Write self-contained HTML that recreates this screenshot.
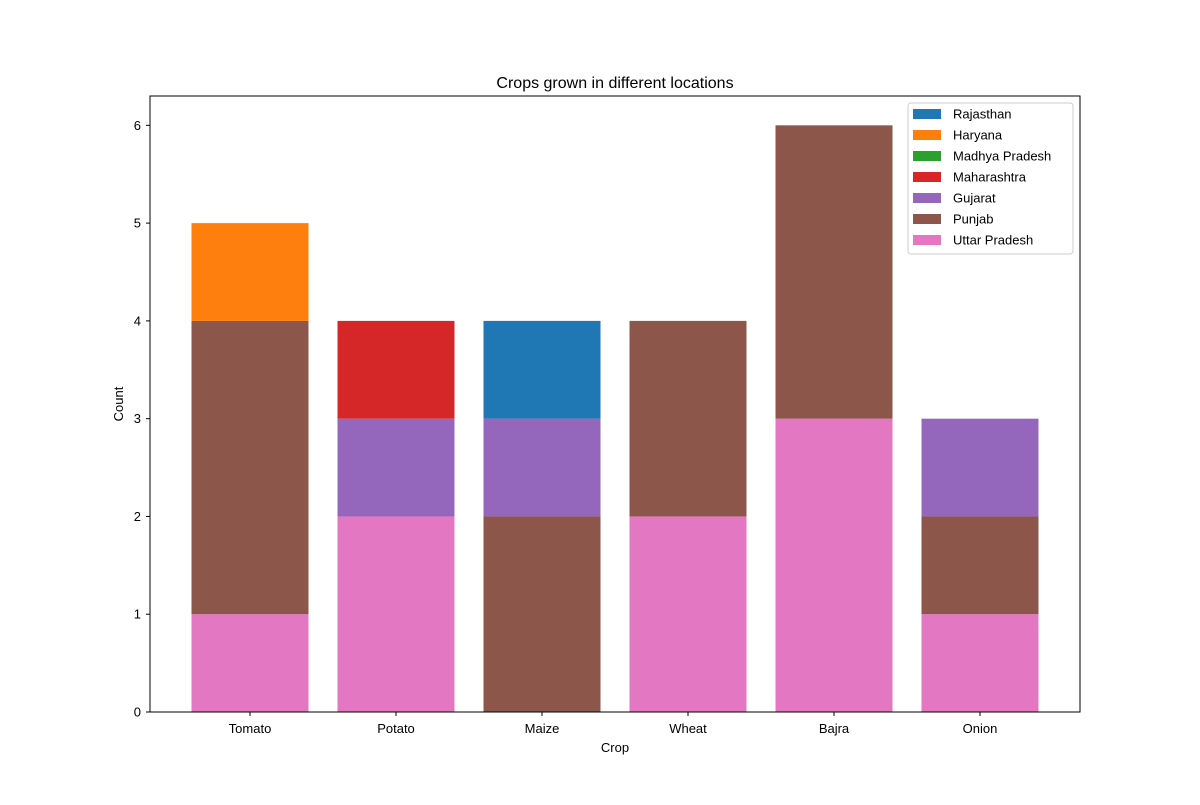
<!DOCTYPE html>
<html><head><meta charset="utf-8"><style>
body{margin:0;background:#fff;font-family:"Liberation Sans","DejaVu Sans",sans-serif;}
</style></head><body>
<svg id="chart" width="1200" height="800" xmlns="http://www.w3.org/2000/svg">
<rect width="1200" height="800" fill="#fff"/>
<text x="615" y="88" text-anchor="middle" font-size="16">Crops grown in different locations</text>
<g id="marks"></g>
<g id="axes"></g>
<text x="615" y="752" text-anchor="middle" font-size="13">Crop</text>
<text x="123" y="404" text-anchor="middle" font-size="13" transform="rotate(-90 123 404)">Count</text>
<rect x="150" y="96" width="930" height="616" fill="none" stroke="#000" stroke-width="1"/>
<g id="legend"></g>
</svg>
<script>
const categories=["Tomato","Potato","Maize","Wheat","Bajra","Onion"];
const seriesNames=["Uttar Pradesh","Punjab","Gujarat","Maharashtra","Madhya Pradesh","Haryana","Rajasthan"];
const colors=["#e377c2","#8c564b","#9467bd","#d62728","#2ca02c","#ff7f0e","#1f77b4"];
const uttarPradesh=[1,2,0,2,3,1];
const punjab=[3,0,2,2,3,1];
const gujarat=[0,1,1,0,0,1];
const maharashtra=[0,1,0,0,0,0];
const madhyaPradesh=[0,0,0,0,0,0];
const haryana=[1,0,0,0,0,0];
const rajasthan=[0,0,1,0,0,0];
const yTicks=[0,1,2,3,4,5,6];
const legendOrder=["Rajasthan","Haryana","Madhya Pradesh","Maharashtra","Gujarat","Punjab","Uttar Pradesh"];
const series=[uttarPradesh,punjab,gujarat,maharashtra,madhyaPradesh,haryana,rajasthan];
const NS="http://www.w3.org/2000/svg";
const plotL=150,plotR=1080,plotT=96,plotB=712,yMax=6.3;
const y=v=>plotB-v/yMax*(plotB-plotT);
const step=146,firstC=250,bw=117;
const xc=i=>firstC+i*step;
function el(t,a,p){const e=document.createElementNS(NS,t);for(const k in a)e.setAttribute(k,a[k]);p.appendChild(e);return e;}
const marks=document.getElementById('marks');
categories.forEach((c,i)=>{let base=0;series.forEach((s,j)=>{const v=s[i];if(v>0){const r=el('rect',{x:xc(i)-bw/2,y:y(base+v),width:bw,height:y(base)-y(base+v),fill:colors[j]},marks);

}base+=v;});});
const axes=document.getElementById('axes');
yTicks.forEach(t=>{el('line',{x1:plotL-4,x2:plotL,y1:y(t),y2:y(t),stroke:'#000'},axes);
const tx=el('text',{x:plotL-9,y:y(t)+4.5,'text-anchor':'end','font-size':13},axes);tx.textContent=t;

});
categories.forEach((c,i)=>{el('line',{x1:xc(i),x2:xc(i),y1:plotB,y2:plotB+4,stroke:'#000'},axes);
const tx=el('text',{x:xc(i),y:plotB+21,'text-anchor':'middle','font-size':13},axes);tx.textContent=c;

});
const lg=document.getElementById('legend');
el('rect',{x:908,y:103,width:165,height:151,rx:3,fill:'#fff',stroke:'#ccc'},lg);
legendOrder.forEach((n,k)=>{const j=seriesNames.indexOf(n);const yy=114+k*21;
el('rect',{x:913,y:yy-5,width:28,height:10,fill:colors[j]},lg);
const tx=el('text',{x:953,y:yy+4.5,'font-size':13},lg);tx.textContent=n;

});
</script>
</body></html>
